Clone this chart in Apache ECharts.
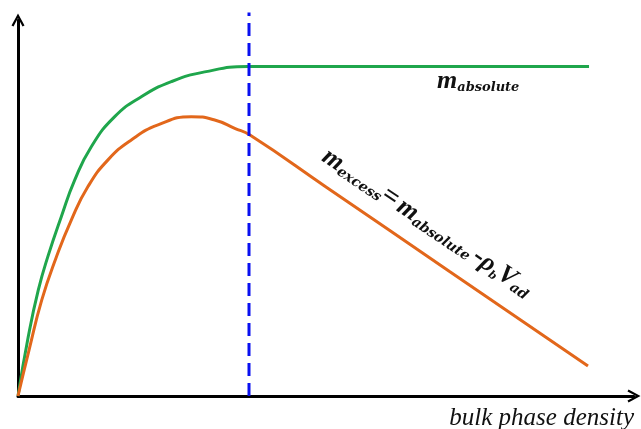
<!DOCTYPE html>
<html>
<head>
<meta charset="utf-8">
<script src="https://cdn.jsdelivr.net/npm/echarts@6/dist/echarts.min.js"></script>
<style>
html,body{margin:0;padding:0;background:#fff;}
#chart{width:641px;height:429px;}
</style>
</head>
<body>
<div id="chart"></div>
<script>
// Arbitrary units: x = bulk phase density (0-100), y = adsorbed amount (0-100)
var absoluteX = [0, 1.67, 3.3, 4.87, 7.03, 9.2, 11.9, 15.7, 20.02, 24.89, 30.31, 37.34, 45.8, 92.7];
var absoluteY = [0, 15.8, 28.2, 37.2, 47.7, 57.4, 66.3, 74.3, 79.6, 83.6, 86.2, 87.6, 87.6, 87.6];
var excessX = [0, 1.79, 3.85, 6.17, 8.65, 11.36, 14.61, 18.39, 22.73, 28.13, 31.93, 35.18, 37.66, 50.0, 70.0, 92.53];
var excessY = [0, 12.2, 25.5, 36.7, 46.8, 55.7, 62.8, 68.1, 72.1, 74.3, 73.4, 71.2, 69.4, 55.6, 33.2, 8.0];
var saturationX = [37.5, 37.5];
var saturationY = [0, 102];
var xAxisName = 'bulk phase density';

function pairs(xs, ys) { return xs.map(function (x, i) { return [x, ys[i]]; }); }

var chart = echarts.init(document.getElementById('chart'), null, {renderer: 'canvas'});
var arrowPath = 'path://M0,12 L6.5,0 L13,12 L11,13 L6.5,4.5 L2,13 Z';
var axisCommon = {
  type: 'value', min: 0, max: 100,
  axisLine: {show: true, onZero: false, symbol: ['none', arrowPath], symbolSize: [13, 13], lineStyle: {color: '#000', width: 3}},
  axisTick: {show: false}, axisLabel: {show: false}, splitLine: {show: false}
};
var serifBI = 'Liberation Serif';
var bigM = {fontFamily: serifBI, fontStyle: 'italic', fontWeight: 'bold', fontSize: 26, fill: '#111', verticalAlign: 'bottom'};
var sub = {fontFamily: 'DejaVu Serif', fontStyle: 'italic', fontWeight: 'bold', fontSize: 14, fill: '#111', verticalAlign: 'bottom'};
chart.setOption({
  backgroundColor: '#fff',
  animation: false,
  grid: {left: 18, top: 20, right: 7, bottom: 33},
  xAxis: axisCommon,
  yAxis: axisCommon,
  series: [
    {type: 'line', data: pairs(absoluteX, absoluteY), smooth: 0.5, symbol: 'none', lineStyle: {color: '#1fa64c', width: 3}, z: 3},
    {type: 'line', data: pairs(excessX, excessY), smooth: 0.5, symbol: 'none', lineStyle: {color: '#e2671b', width: 3}, z: 3},
    {type: 'line', data: pairs(saturationX, saturationY), symbol: 'none', clip: false, lineStyle: {color: '#0a10f0', width: 3, type: [13, 7]}, z: 4}
  ],
  graphic: [
    {type: 'text', x: 437, y: 94, style: {
      text: '{m|m}{s|absolute}', verticalAlign: 'bottom',
      rich: {
        m: bigM,
        s: {fontFamily: 'DejaVu Serif', fontStyle: 'italic', fontWeight: 'bold', fontSize: 13, fill: '#111', verticalAlign: 'bottom'}
      }}},
    {type: 'text', x: 320, y: 161, rotation: -0.59, originX: 0, originY: 0, style: {
      text: '{m|m}{s|excess}{eq|=}{sp| }{m|m}{s|absolute}{sp| }{eq|-}{m|ρ}{sb|b}{m|V}{s|ad}', verticalAlign: 'bottom', x: 0, y: 5,
      rich: {
        m: bigM,
        s: sub,
        sp: {fontSize: 12},
        sb: {fontFamily: 'DejaVu Serif', fontStyle: 'italic', fontWeight: 'bold', fontSize: 11, fill: '#111', verticalAlign: 'bottom'},
        eq: {fontFamily: serifBI, fontWeight: 'bold', fontSize: 28, fill: '#111', verticalAlign: 'bottom'}
      }}},
    {type: 'text', x: 634, y: 431, style: {
      text: xAxisName, fontFamily: serifBI, fontStyle: 'italic', fontSize: 25, fill: '#111', align: 'right', verticalAlign: 'bottom'}}
  ]
});
</script>
</body>
</html>
